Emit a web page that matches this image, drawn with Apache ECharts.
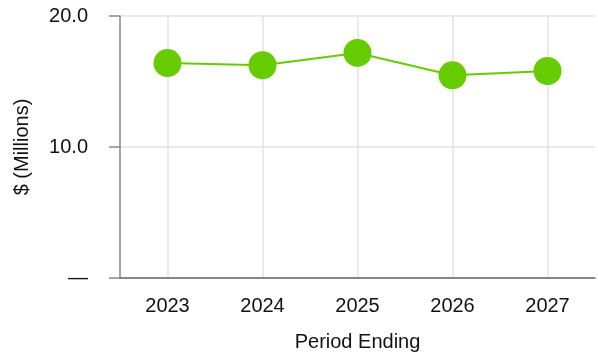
<!DOCTYPE html>
<html>
<head>
<meta charset="utf-8">
<script src="https://cdn.jsdelivr.net/npm/echarts@6/dist/echarts.min.js"></script>
<style>
  html, body { margin: 0; padding: 0; background: #fff; }
  #chart { width: 598px; height: 354px; }
</style>
</head>
<body>
<div id="chart"></div>
<script>
const years = ['2023', '2024', '2025', '2026', '2027'];
const values = [16.41, 16.24, 17.18, 15.47, 15.80];
const yTicks = [0, 10, 20];

const green = '#66cc00';
const font = 'Arial, "Liberation Sans", sans-serif';

const chart = echarts.init(document.getElementById('chart'));
chart.setOption({
  animation: false,
  grid: { left: 120, right: 3, top: 16, bottom: 76, outerBoundsMode: 'none' },
  xAxis: {
    type: 'category',
    data: years,
    name: 'Period Ending',
    nameLocation: 'middle',
    nameGap: 54,
    nameTextStyle: { fontSize: 20, color: '#111', fontFamily: font },
    axisLine: { lineStyle: { color: '#666', width: 1.5 } },
    axisTick: { alignWithLabel: true, length: 10, lineStyle: { color: '#888', width: 1.5 } },
    axisLabel: { fontSize: 20, color: '#111', fontFamily: font, margin: 18 },
    splitLine: { show: true, alignWithLabel: true, lineStyle: { color: '#e3e3e3', width: 1.5 } }
  },
  yAxis: {
    type: 'value',
    min: yTicks[0],
    max: yTicks[yTicks.length - 1],
    interval: 10,
    name: '$ (Millions)',
    nameLocation: 'middle',
    nameGap: 88,
    nameTextStyle: { fontSize: 20, color: '#111', fontFamily: font },
    axisLine: { show: true, lineStyle: { color: '#888', width: 1.5 } },
    axisTick: { show: true, length: 11, lineStyle: { color: '#888', width: 1.5 } },
    axisLabel: {
      fontSize: 20, color: '#111', fontFamily: font, margin: 32,
      formatter: v => v === 0 ? '—' : v.toFixed(1)
    },
    splitLine: { show: true, lineStyle: { color: '#e3e3e3', width: 1.5 } }
  },
  series: [{
    type: 'line',
    data: values,
    symbol: 'circle',
    symbolSize: 28,
    itemStyle: { color: green },
    lineStyle: { color: green, width: 2 }
  }]
});
</script>
</body>
</html>
